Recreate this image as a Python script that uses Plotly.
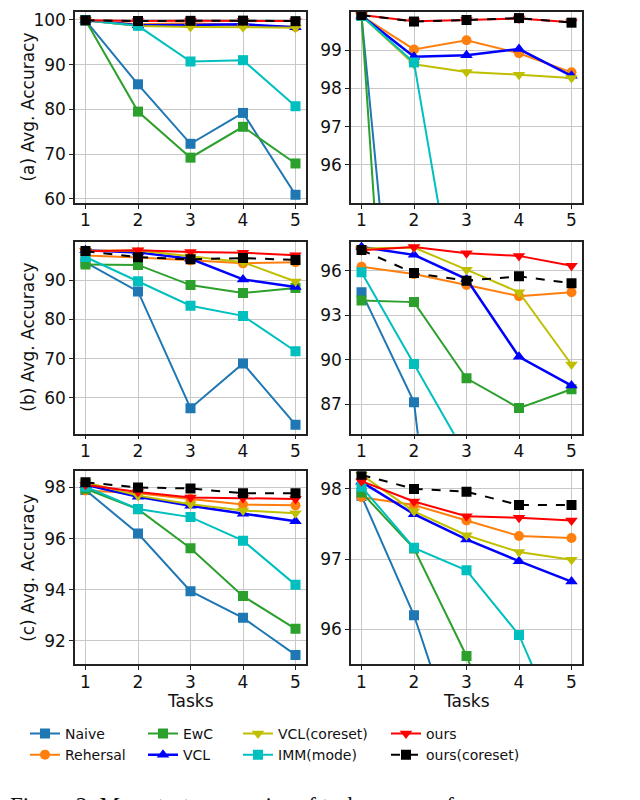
import plotly.graph_objects as go
from plotly.subplots import make_subplots

tasks = [1, 2, 3, 4, 5]
methods = ['Naive', 'Rehersal', 'EwC', 'VCL', 'VCL(coreset)', 'IMM(mode)', 'ours', 'ours(coreset)']

# (a)
naive_a = [99.9, 85.6, 72.3, 79.2, 60.9]
rehersal_a = [99.9, 99.02, 99.26, 98.92, 98.42]
ewc_a = [99.9, 79.5, 69.2, 76.1, 67.9]
vcl_a = [99.9, 98.83, 98.87, 99.03, 98.33]
vclc_a = [99.9, 98.63, 98.43, 98.36, 98.27]
imm_a = [99.9, 98.68, 90.7, 91.0, 80.7]
ours_a = [99.92, 99.76, 99.79, 99.83, 99.73]
oursc_a = [99.92, 99.75, 99.79, 99.84, 99.72]

# (b)
naive_b = [94.55, 87.13, 57.4, 68.8, 53.2]
rehersal_b = [96.27, 95.77, 95.04, 94.28, 94.55]
ewc_b = [93.99, 93.88, 88.74, 86.73, 88.0]
vcl_b = [97.6, 97.07, 95.44, 90.19, 88.25]
vclc_b = [97.5, 97.56, 96.07, 94.55, 89.67]
imm_b = [95.89, 89.7, 83.5, 80.9, 71.9]
ours_b = [97.38, 97.6, 97.18, 97.0, 96.33]
oursc_b = [97.4, 95.84, 95.33, 95.62, 95.15]

# (c)
naive_c = [97.9, 96.2, 93.94, 92.9, 91.45]
rehersal_c = [97.88, 97.77, 97.55, 97.33, 97.3]
ewc_c = [97.95, 97.15, 95.62, 93.75, 92.47]
vcl_c = [98.1, 97.64, 97.28, 96.97, 96.68]
vclc_c = [98.2, 97.68, 97.34, 97.1, 96.99]
imm_c = [98.03, 97.16, 96.84, 95.92, 94.19]
ours_c = [98.11, 97.82, 97.61, 97.59, 97.55]
oursc_c = [98.2, 98.0, 97.96, 97.77, 97.77]

panels = [
    [naive_a, rehersal_a, ewc_a, vcl_a, vclc_a, imm_a, ours_a, oursc_a],
    [naive_b, rehersal_b, ewc_b, vcl_b, vclc_b, imm_b, ours_b, oursc_b],
    [naive_c, rehersal_c, ewc_c, vcl_c, vclc_c, imm_c, ours_c, oursc_c],
]
row_labels = ['(a) Avg. Accuracy', '(b) Avg. Accuracy', '(c) Avg. Accuracy']

colors = ['#1f77b4', '#ff7f0e', '#2ca02c', '#0000ff', '#bfbf00', '#00bfbf', '#ff0000', '#000000']
symbols = ['square', 'circle', 'square', 'triangle-up', 'triangle-down', 'square', 'triangle-down', 'square']
dashes = ['solid'] * 7 + ['dash']
widths = [2, 2, 2, 2.5, 2, 2, 2, 2]
legend_ids = ['legend', 'legend', 'legend2', 'legend2', 'legend3', 'legend3', 'legend4', 'legend4']

left_ranges = [[59.05, 101.77], [50.9, 99.8], [91.08, 98.63]]
right_ranges = [[95.0, 100.0], [85.0, 97.96], [95.5, 98.25]]
left_ticks = [[60, 70, 80, 90, 100], [60, 70, 80, 90], [92, 94, 96, 98]]
right_ticks = [[96, 97, 98, 99], [87, 90, 93, 96], [96, 97, 98]]

W, H = 640, 800
row_px = [(2, 195), (234, 428), (466, 661)]
col_px = [(67, 298), (343, 574)]

fig = make_subplots(rows=3, cols=2)

for r, data in enumerate(panels):
    for c in range(2):
        for i, name in enumerate(methods):
            fig.add_trace(go.Scatter(
                x=tasks, y=data[i], name=name, mode='lines+markers',
                line=dict(color=colors[i], width=widths[i], dash=dashes[i]),
                marker=dict(symbol=symbols[i], size=11 if 'triangle' in symbols[i] else 10,
                            color=colors[i]),
                showlegend=(r == 0 and c == 0), legend=legend_ids[i],
            ), row=r + 1, col=c + 1)

axis_common = dict(showline=True, mirror=True, linecolor='#222222', linewidth=1.5,
                   showgrid=True, gridcolor='#c8c8c8', gridwidth=1,
                   ticks='outside', ticklen=4, tickcolor='#222222',
                   tickfont=dict(family='DejaVu Sans', size=17, color='#111111'),
                   ticklabeloverflow='allow', zeroline=False)

for r in range(3):
    y0, y1 = row_px[r]
    for c in range(2):
        x0, x1 = col_px[c]
        fig.update_xaxes(axis_common, domain=[x0 / W, x1 / W], range=[0.8, 5.2],
                         tickvals=tasks, ticklabelstandoff=-3, row=r + 1, col=c + 1)
        fig.update_yaxes(axis_common, domain=[1 - y1 / H, 1 - y0 / H],
                         range=left_ranges[r] if c == 0 else right_ranges[r],
                         tickvals=left_ticks[r] if c == 0 else right_ticks[r],
                         row=r + 1, col=c + 1)

annotations = []
for r in range(3):
    y0, y1 = row_px[r]
    annotations.append(dict(text=row_labels[r], x=20 / W, y=1 - (y0 + y1) / 2 / H,
                            xref='paper', yref='paper', xanchor='center', yanchor='middle',
                            textangle=-90, showarrow=False,
                            font=dict(family='DejaVu Sans', size=17, color='#111111')))
for c in range(2):
    x0, x1 = col_px[c]
    annotations.append(dict(text='Tasks', x=(x0 + x1) / 2 / W, y=1 - 698 / H,
                            xref='paper', yref='paper', xanchor='center', yanchor='middle',
                            showarrow=False,
                            font=dict(family='DejaVu Sans', size=17, color='#111111')))
annotations.append(dict(text='Figure 2: Mean test accuracies of tasks seen so far as new',
                        x=0, y=1 - 789 / H, xref='paper', yref='paper',
                        xanchor='left', yanchor='top', showarrow=False,
                        font=dict(family='Liberation Serif', size=23, color='#111111')))

legend_style = dict(orientation='v', yanchor='top', y=1 - 715 / H, xanchor='left',
                    bgcolor='rgba(0,0,0,0)', tracegroupgap=0,
                    font=dict(family='DejaVu Sans', size=14, color='#111111'))

fig.update_layout(
    width=W, height=H,
    margin=dict(l=0, r=0, t=0, b=0),
    plot_bgcolor='white', paper_bgcolor='white',
    annotations=annotations,
    legend=dict(legend_style, x=17 / W),
    legend2=dict(legend_style, x=135 / W),
    legend3=dict(legend_style, x=230 / W),
    legend4=dict(legend_style, x=378 / W),
)

fig.write_html("out.html")
